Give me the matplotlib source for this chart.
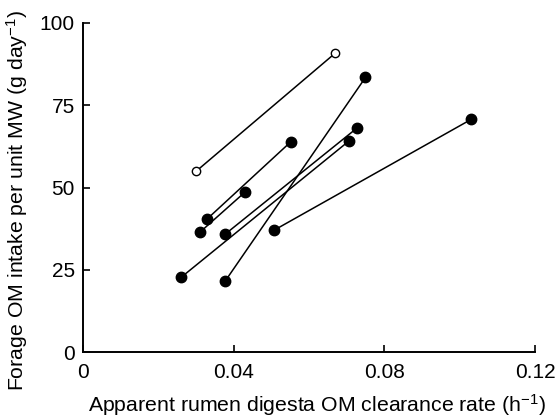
import matplotlib
matplotlib.use('Agg')
import matplotlib.pyplot as plt

plt.rcParams['font.family'] = ['Liberation Sans', 'DejaVu Sans']
plt.rcParams['mathtext.fontset'] = 'custom'
plt.rcParams['mathtext.rm'] = 'Liberation Sans'
plt.rcParams['mathtext.default'] = 'regular'

# Each animal: clearance rate and intake on the two diets
x_start = [0.0300, 0.0261, 0.0378, 0.0378, 0.0329, 0.0310, 0.0508]
y_start = [54.9, 22.8, 35.9, 21.7, 40.4, 36.4, 37.1]
x_end = [0.0669, 0.0707, 0.0728, 0.0750, 0.0552, 0.0429, 0.1031]
y_end = [90.7, 64.2, 68.1, 83.4, 63.9, 48.5, 70.7]
open_symbol = [True, False, False, False, False, False, False]

x_ticks = [0, 0.04, 0.08, 0.12]
x_tick_labels = ['0', '0.04', '0.08', '0.12']
y_ticks = [0, 25, 50, 75, 100]

fig = plt.figure(figsize=(5.57, 4.17), dpi=100)
ax = fig.add_axes([0.149, 0.155, 0.8115, 0.7906])

for x0, y0, x1, y1, is_open in zip(x_start, y_start, x_end, y_end, open_symbol):
    if is_open:
        ax.plot([x0, x1], [y0, y1], color='black', lw=1.1, marker='o',
                markersize=6, markerfacecolor='white',
                markeredgecolor='black', markeredgewidth=1.0, zorder=3)
    else:
        ax.plot([x0, x1], [y0, y1], color='black', lw=1.1, marker='o',
                markersize=7.5, markerfacecolor='black',
                markeredgecolor='black', zorder=3)

ax.set_xlim(0, 0.12)
ax.set_ylim(0, 100)
ax.set_xticks(x_ticks)
ax.set_xticklabels(x_tick_labels)
ax.set_yticks(y_ticks)

for side in ['top', 'right']:
    ax.spines[side].set_visible(False)
for side in ['left', 'bottom']:
    ax.spines[side].set_linewidth(1.4)

ax.tick_params(axis='both', direction='in', length=5, width=1.2,
               labelsize=15)
ax.tick_params(axis='x', pad=8)
ax.tick_params(axis='y', pad=6)

ax.set_xlabel('Apparent rumen digesta OM clearance rate (h$^{\\mathrm{-1}}$)',
              fontsize=15.3)
ax.set_ylabel('Forage OM intake per unit MW (g day$^{\\mathrm{-1}}$)',
              fontsize=15.3)
ax.xaxis.set_label_coords(0.517, -0.121)
ax.yaxis.set_label_coords(-0.118, 0.462)

fig.savefig('out.png', dpi=100)
